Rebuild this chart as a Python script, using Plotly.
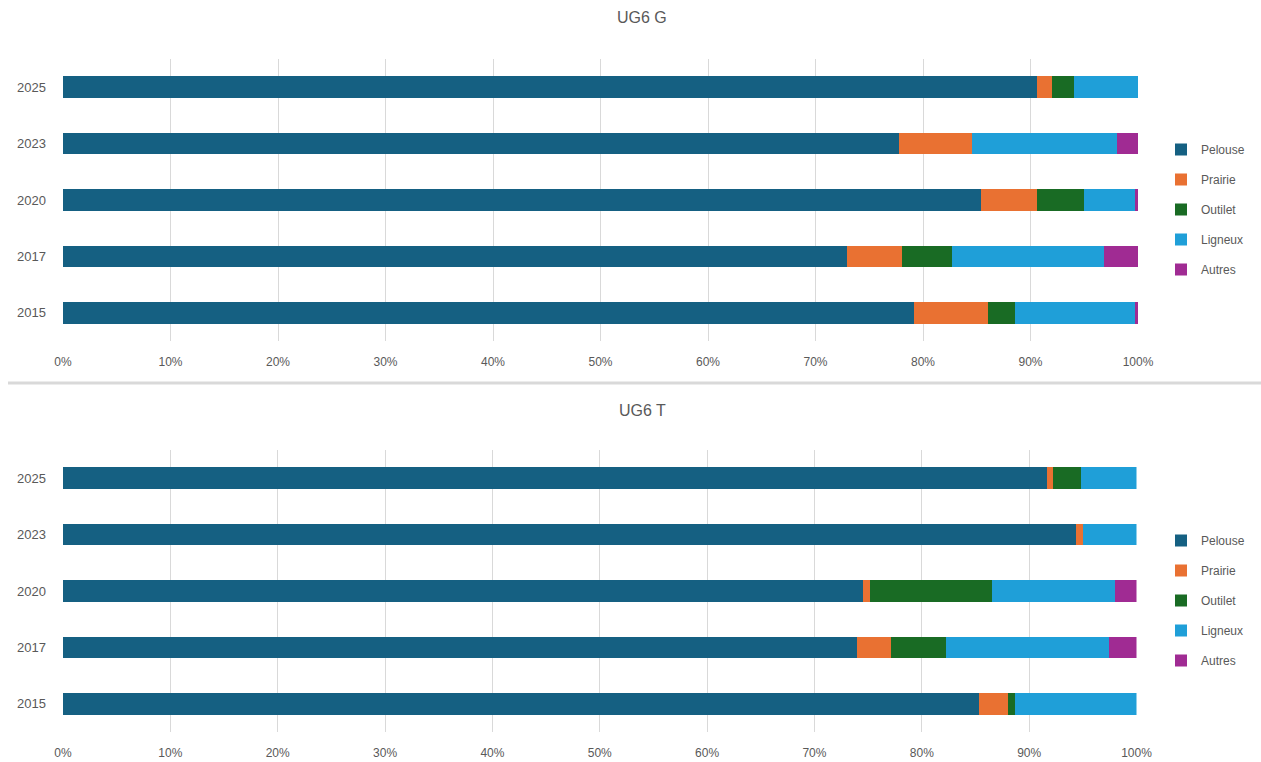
import plotly.graph_objects as go

years = ["2015", "2017", "2020", "2023", "2025"]
series_labels = ["Pelouse", "Prairie", "Outilet", "Ligneux", "Autres"]
colors = ["#156082", "#E97132", "#196B24", "#1F9FD8", "#A02B93"]

# UG6 G (percent), order follows years
g_pelouse = [79.2, 72.9, 85.4, 77.8, 90.6]
g_prairie = [6.8, 5.1, 5.2, 6.8, 1.4]
g_outilet = [2.6, 4.7, 4.4, 0.0, 2.0]
g_ligneux = [11.1, 14.1, 4.7, 13.4, 6.0]
g_autres = [0.3, 3.2, 0.3, 2.0, 0.0]

# UG6 T (percent)
t_pelouse = [85.3, 74.0, 74.5, 94.4, 91.7]
t_prairie = [2.7, 3.1, 0.7, 0.6, 0.5]
t_outilet = [0.7, 5.2, 11.3, 0.0, 2.6]
t_ligneux = [11.3, 15.1, 11.5, 5.0, 5.2]
t_autres = [0.0, 2.6, 2.0, 0.0, 0.0]

titles = ["UG6 G", "UG6 T"]
x_ticks = list(range(0, 101, 10))
x_ticktext = [f"{v}%" for v in x_ticks]

W, H = 1261, 762
FONT = "Liberation Sans, Arial, sans-serif"
TXT = "#595959"

def py(px):
    return 1 - px / H

fig = go.Figure()

datasets = [
    ([g_pelouse, g_prairie, g_outilet, g_ligneux, g_autres], "x", "y", "legend"),
    ([t_pelouse, t_prairie, t_outilet, t_ligneux, t_autres], "x2", "y2", "legend2"),
]
for vals, xa, ya, lg in datasets:
    for i, name in enumerate(series_labels):
        fig.add_trace(go.Bar(
            y=years, x=vals[i], name=name, orientation="h",
            marker=dict(color=colors[i], line=dict(width=0)),
            xaxis=xa, yaxis=ya, legend=lg,
            legendgroup=f"{lg}_{name}",
        ))

axis_x = dict(range=[0, 100], tickmode="array", tickvals=x_ticks, ticktext=x_ticktext,
              showgrid=True, gridcolor="#d9d9d9", gridwidth=1, zeroline=False, showline=False,
              tickfont=dict(family=FONT, size=12, color=TXT), ticklabelstandoff=12,
              fixedrange=True)
axis_y = dict(type="category", categoryorder="array", categoryarray=years,
              showgrid=False, zeroline=False, showline=False,
              tickfont=dict(family=FONT, size=13, color=TXT), ticklabelstandoff=16,
              range=[-0.5, 4.5])

legend_common = dict(font=dict(family=FONT, size=12, color=TXT), traceorder="grouped",
                     tracegroupgap=11, bgcolor="rgba(0,0,0,0)", xanchor="left",
                     yanchor="top", itemclick=False, itemwidth=30)

fig.update_layout(
    width=W, height=H,
    margin=dict(l=0, r=0, t=0, b=0, autoexpand=False),
    paper_bgcolor="white", plot_bgcolor="white",
    barmode="stack", bargap=0.62,
    showlegend=True,
    xaxis=dict(domain=[63 / W, 1138 / W], anchor="y", **axis_x),
    yaxis=dict(domain=[py(341), py(59)], anchor="x", **axis_y),
    xaxis2=dict(domain=[63 / W, 1136.5 / W], anchor="y2", **axis_x),
    yaxis2=dict(domain=[py(732), py(450)], anchor="x2", **axis_y),
    legend=dict(x=1161 / W, y=py(135), **legend_common),
    legend2=dict(x=1161 / W, y=py(526), **legend_common),
    annotations=[
        dict(text=titles[0], x=642 / W, y=py(18), xref="paper", yref="paper",
             xanchor="center", yanchor="middle",
             showarrow=False, font=dict(family=FONT, size=16, color=TXT)),
        dict(text=titles[1], x=642 / W, y=py(410), xref="paper", yref="paper",
             xanchor="center", yanchor="middle",
             showarrow=False, font=dict(family=FONT, size=16, color=TXT)),
    ],
    shapes=[
        dict(type="line", xref="paper", yref="paper", x0=8 / W, x1=1, y0=py(383), y1=py(383),
             line=dict(color="#d9d9d9", width=3)),
    ],
)

fig.write_html("out.html")
